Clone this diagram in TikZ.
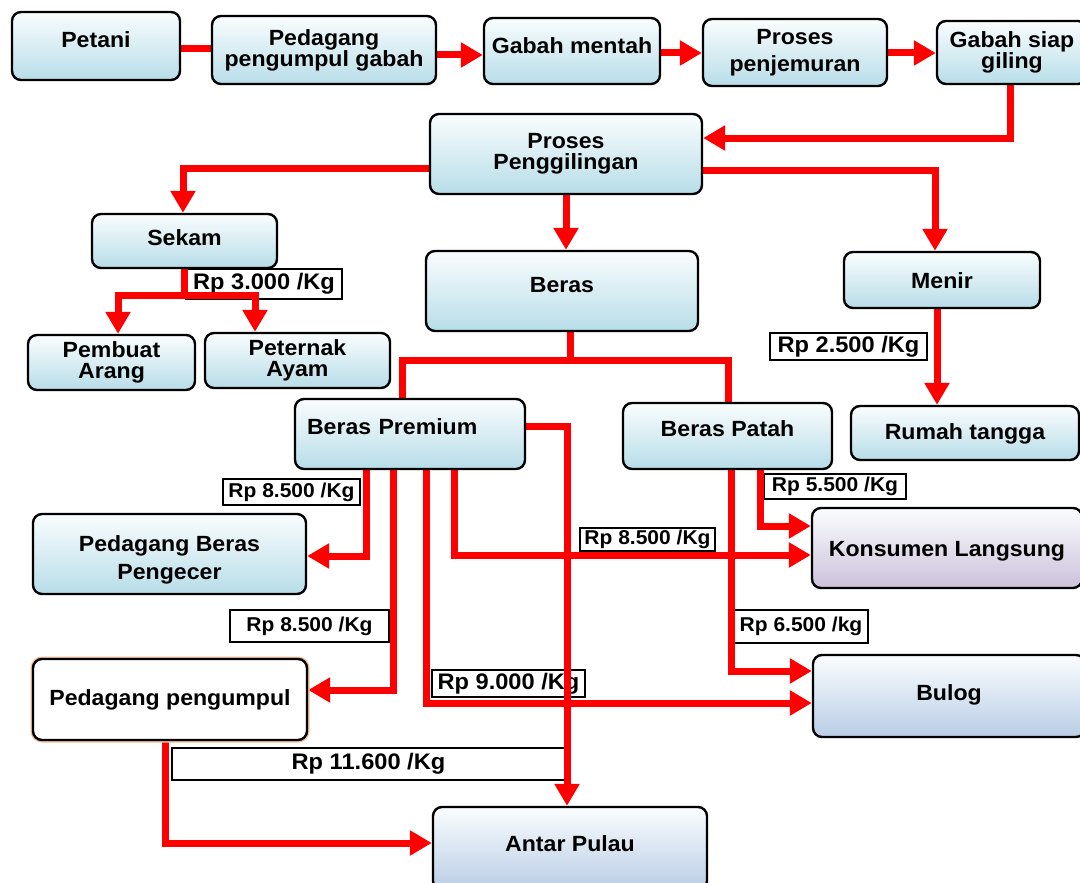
\documentclass[tikz,border=0pt]{standalone}
\usepackage{fontspec}
\setmainfont{Liberation Sans}[FakeStretch=1.05]
\usetikzlibrary{arrows.meta}

\definecolor{flowred}{RGB}{255,0,0}
\definecolor{boxtop}{RGB}{250,253,254}
\definecolor{boxblue}{RGB}{183,221,232}
\definecolor{boxlilac}{RGB}{204,193,218}
\definecolor{boxsteel}{RGB}{185,205,229}
\definecolor{peach}{RGB}{240,192,150}

\newcommand\boxfont{\fontsize{22}{21}\selectfont\bfseries}
\newcommand\pricefont{\fontsize{20}{20}\selectfont\bfseries}
\newcommand\pricefontbig{\fontsize{22.5}{22.5}\selectfont\bfseries}

\pgfdeclarelayer{paper}
\pgfdeclarelayer{wires}
\pgfsetlayers{paper,wires,main}

\begin{document}
\begin{tikzpicture}[x=1pt,y=-1pt,
  box/.style={draw=black, line width=2.4pt, rounded corners=9pt,
    top color=boxtop, bottom color=boxblue, align=center,
    font=\boxfont, inner sep=0pt},
  lilac/.style={top color=boxtop, bottom color=boxlilac},
  steel/.style={top color=boxtop, bottom color=boxsteel},
  plainbox/.style={box, top color=white, bottom color=white,
    preaction={draw=peach, line width=5pt}},
  lift/.style={text height=16pt, text depth=#1},
  price/.style={draw=black, line width=1.6pt, fill=white, inner sep=0pt,
    font=\pricefont},
  bigprice/.style={price, font=\pricefontbig},
  link/.style={draw=flowred, line width=7pt},
  flow/.style={link, -{Triangle[length=22pt,width=24pt]}}
]
\begin{pgfonlayer}{paper}
  \fill[white] (0,0) rectangle (1080,883);
\end{pgfonlayer}
\useasboundingbox (0,0) rectangle (1080,883);

% ---------- process chain ----------
\node[box, lift=12pt, minimum width=168pt, minimum height=68pt] (petani) at (96,46) {Petani};
\node[box, minimum width=224pt, minimum height=68pt] (pgabah) at (324,50) {Pedagang\\pengumpul gabah};
\node[box, lift=10pt, minimum width=176pt, minimum height=66pt] (mentah) at (572,51) {Gabah mentah};
\node[box, minimum width=184pt, minimum height=67pt] (jemur) at (795,52.5) {Proses\\[6pt]penjemuran};
\node[box, minimum width=150pt, minimum height=63pt] (siap) at (1012,52.5) {Gabah siap\\giling};
\node[box, minimum width=272pt, minimum height=80pt] (giling) at (566,154) {Proses\\Penggilingan};

% ---------- products of the mill ----------
\node[box, lift=8pt, minimum width=185pt, minimum height=54pt] (sekam) at (184.5,241) {Sekam};
\node[box, minimum width=167pt, minimum height=55pt] (arang) at (111.5,362.5) {Pembuat\\Arang};
\node[box, minimum width=185pt, minimum height=55pt] (ayam) at (297.5,360.5) {Peternak\\Ayam};
\node[box, lift=14pt, minimum width=272pt, minimum height=80pt] (beras) at (562,291) {Beras};
\node[box, lift=0pt, minimum width=196pt, minimum height=56pt] (menir) at (942,280) {Menir};
\node[box, lift=4pt, minimum width=228pt, minimum height=54pt] (rumah) at (965,433) {Rumah tangga};
\node[box, lift=16pt, align=left, text width=206pt, inner xsep=12pt,
      minimum width=230pt, minimum height=70pt] (premium) at (410,434) {Beras Premium};
\node[box, lift=16pt, minimum width=209pt, minimum height=66pt] (patah) at (727.5,436) {Beras Patah};

% ---------- buyers ----------
\node[box, minimum width=273pt, minimum height=80pt] (pengecer) at (169.5,554)
  {\rule{0pt}{27pt}Pedagang Beras\\[7pt]Pengecer};
\node[box, lilac, lift=0pt, minimum width=270pt, minimum height=80pt] (konsumen) at (947,548) {Konsumen Langsung};
\node[plainbox, lift=5pt, minimum width=274pt, minimum height=81pt] (pengumpul) at (170,699.5) {Pedagang pengumpul};
\node[box, steel, lift=8pt, minimum width=272pt, minimum height=82pt] (bulog) at (949,696) {Bulog};
\node[box, steel, lift=11pt, minimum width=274pt, minimum height=83pt] (antar) at (570,848.5) {Antar Pulau};

\begin{pgfonlayer}{wires}
  % price tags
  \node[bigprice, minimum width=156pt, minimum height=30pt] (p3000) at (264,284) {Rp 3.000 /Kg};
  \node[bigprice, minimum width=157pt, minimum height=27pt] (p2500) at (848.5,346.5) {Rp 2.500 /Kg};
  \node[price, minimum width=137pt, minimum height=26pt] (p8500a) at (291.5,492) {Rp 8.500 /Kg};
  \node[price, minimum width=142pt, minimum height=25pt] (p5500) at (835,486.5) {Rp 5.500 /Kg};
  \node[price, minimum width=135pt, minimum height=23pt] (p8500b) at (647.5,539.5) {Rp 8.500 /Kg};
  \node[price, minimum width=159pt, minimum height=32pt] (p8500c) at (309.5,626) {Rp 8.500 /Kg};
  \node[price, minimum width=134pt, minimum height=33pt] (p6500) at (801,626.5) {Rp 6.500 /kg};
  \node[bigprice, minimum width=153pt, minimum height=27pt] (p9000) at (508.5,683.5) {Rp 9.000 /Kg};
  \node[bigprice, minimum width=393pt, minimum height=32pt] (p11600) at (368.5,764) {Rp 11.600 /Kg};

  % chain from farmer to mill
  \draw[link] (petani.east |- 0,49) -- (pgabah.west |- 0,49);
  \draw[flow] (pgabah.east |- 0,55) -- (mentah.west |- 0,55);
  \draw[flow] (mentah.east |- 0,53) -- (jemur.west |- 0,53);
  \draw[flow] (jemur.east |- 0,53) -- (siap.west |- 0,53);
  \draw[flow] (siap.south -| 1010,0) |- (giling.east |- 0,138);

  % mill outputs
  \draw[flow] (giling.west |- 0,168) -| (sekam.north -| 183,0);
  \draw[flow] (giling.south -| 566,0) -- (beras.north -| 566,0);
  \draw[flow] (giling.east |- 0,170) -| (menir.north -| 935,0);

  % husk
  \draw[flow] (sekam.south) |- (118,295) -- (arang.north -| 118,0);
  \draw[flow] (sekam.south) |- (255,295) -- (ayam.north -| 255,0);

  % rice split
  \draw[link] (beras.south -| 570,0) -- (570,360) -| (premium.north -| 402,0);
  \draw[link] (570,360) -| (patah.north -| 728,0);

  % broken grains
  \draw[flow] (menir.south -| 937,0) -- (rumah.north -| 937,0);

  % premium rice
  \draw[flow] (premium.east |- 0,426) -| (antar.north -| 567,0);
  \draw[flow] (premium.south -| 366,0) |- (pengecer.east |- 0,556);
  \draw[flow] (premium.south -| 393,0) |- (pengumpul.east |- 0,690);
  \draw[flow] (premium.south -| 426,0) |- (bulog.west |- 0,703);
  \draw[flow] (premium.south -| 454,0) |- (konsumen.west |- 0,555);

  % broken rice
  \draw[flow] (patah.south -| 760,0) |- (konsumen.west |- 0,526);
  \draw[flow] (patah.south -| 731,0) |- (bulog.west |- 0,671);

  % collector to inter-island trade
  \draw[flow] (pengumpul.south -| 165,0) |- (antar.west |- 0,843);
\end{pgfonlayer}
\end{tikzpicture}
\end{document}
